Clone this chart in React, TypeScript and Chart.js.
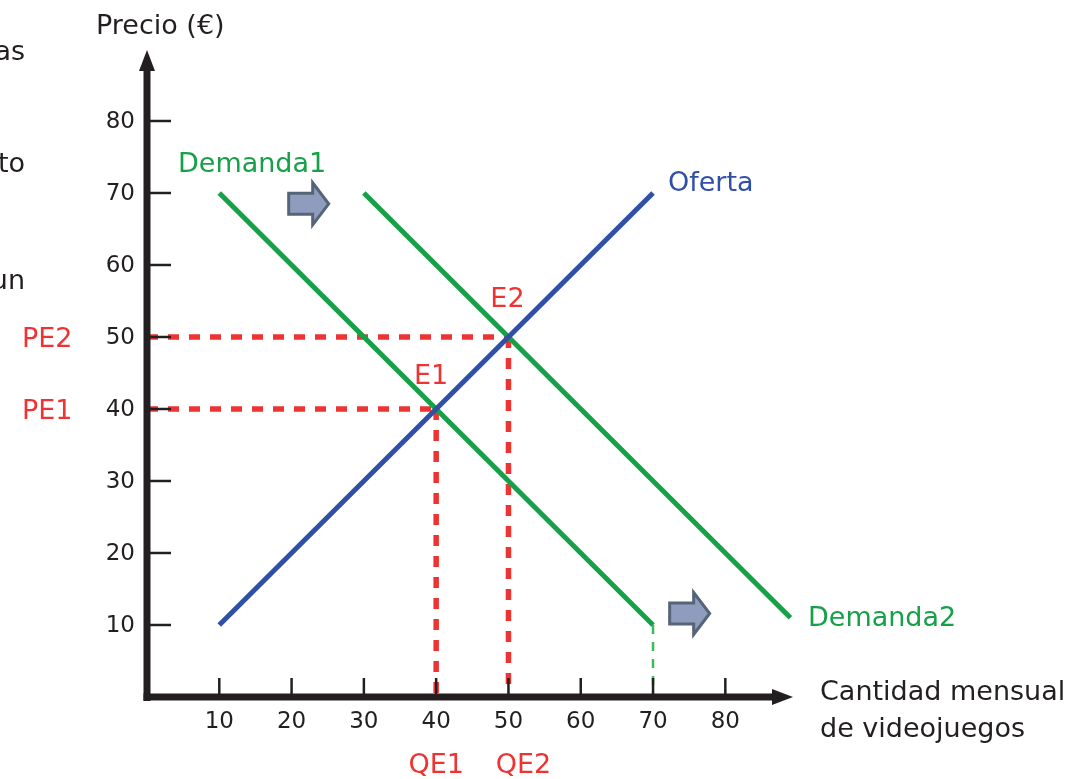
import React, { useEffect, useRef } from "react";
import { Chart, registerables } from "chart.js";
Chart.register(...registerables);

// ---- data ----
const xTicks = [10, 20, 30, 40, 50, 60, 70, 80];
const yTicks = [10, 20, 30, 40, 50, 60, 70, 80];
const oferta = [{ x: 10, y: 10 }, { x: 70, y: 70 }];
const demanda1 = [{ x: 10, y: 70 }, { x: 70, y: 10 }];
const demanda2 = [{ x: 30, y: 70 }, { x: 89, y: 11 }];
const equilibrio1 = { x: 40, y: 40 };
const equilibrio2 = { x: 50, y: 50 };
const guiaDemanda1 = [{ x: 70, y: 10 }, { x: 70, y: 0 }];

// ---- style ----
const GREEN = "#16a048";
const GREEN_LIGHT = "#3dba5a";
const BLUE = "#3050a8";
const RED = "#ee3333";
const INK = "#231f20";
const FONT = '"DejaVu Sans", Verdana, sans-serif';

const W = 1083;
const H = 779;

const decor = {
  id: "decor",
  afterDatasetsDraw(chart: any) {
    const { ctx } = chart;
    const xs = chart.scales.x;
    const ys = chart.scales.y;
    const x0 = xs.getPixelForValue(0);
    const y0 = ys.getPixelForValue(0);
    ctx.save();

    // axes
    ctx.strokeStyle = INK;
    ctx.fillStyle = INK;
    ctx.lineWidth = 7;
    ctx.lineCap = "butt";
    const yTip = ys.getPixelForValue(90) + 1;
    const xTip = xs.getPixelForValue(xs.max) - 1;
    ctx.beginPath();
    ctx.moveTo(x0, y0 + 4);
    ctx.lineTo(x0, yTip + 18);
    ctx.stroke();
    ctx.beginPath();
    ctx.moveTo(x0 - 3.5, y0);
    ctx.lineTo(xTip - 18, y0);
    ctx.stroke();
    // arrow heads
    ctx.beginPath();
    ctx.moveTo(x0, yTip);
    ctx.lineTo(x0 - 8, yTip + 21);
    ctx.lineTo(x0 + 8, yTip + 21);
    ctx.closePath();
    ctx.fill();
    ctx.beginPath();
    ctx.moveTo(xTip, y0);
    ctx.lineTo(xTip - 21, y0 - 8);
    ctx.lineTo(xTip - 21, y0 + 8);
    ctx.closePath();
    ctx.fill();

    // ticks
    ctx.lineWidth = 2.5;
    yTicks.forEach((v) => {
      const py = ys.getPixelForValue(v);
      ctx.beginPath();
      ctx.moveTo(x0 + 3, py);
      ctx.lineTo(x0 + 24, py);
      ctx.stroke();
    });
    xTicks.forEach((v) => {
      const px = xs.getPixelForValue(v);
      ctx.beginPath();
      ctx.moveTo(px, y0 - 3);
      ctx.lineTo(px, y0 - 19);
      ctx.stroke();
    });

    // tick labels
    ctx.font = `23px ${FONT}`;
    ctx.textBaseline = "middle";
    ctx.textAlign = "right";
    yTicks.forEach((v) => {
      ctx.fillText(String(v), x0 - 12, ys.getPixelForValue(v) + 1);
    });
    ctx.textAlign = "center";
    xTicks.forEach((v) => {
      ctx.fillText(String(v), xs.getPixelForValue(v), y0 + 25);
    });

    // block arrows (shift of demand)
    const blockArrow = (left: number, cy: number) => {
      const bodyL = 24, headL = 16, bodyH = 21, headH = 42;
      ctx.beginPath();
      ctx.moveTo(left, cy - bodyH / 2);
      ctx.lineTo(left + bodyL, cy - bodyH / 2);
      ctx.lineTo(left + bodyL, cy - headH / 2);
      ctx.lineTo(left + bodyL + headL, cy);
      ctx.lineTo(left + bodyL, cy + headH / 2);
      ctx.lineTo(left + bodyL, cy + bodyH / 2);
      ctx.lineTo(left, cy + bodyH / 2);
      ctx.closePath();
      ctx.fillStyle = "#8f9cbd";
      ctx.fill();
      ctx.lineWidth = 3;
      ctx.lineJoin = "miter";
      ctx.strokeStyle = "#566478";
      ctx.stroke();
    };
    blockArrow(xs.getPixelForValue(19.6), ys.getPixelForValue(68.5));
    blockArrow(xs.getPixelForValue(72.3), ys.getPixelForValue(11.6));

    // text labels
    ctx.font = `27px ${FONT}`;
    ctx.textBaseline = "alphabetic";
    const text = (t: string, x: number, y: number, color: string, align: CanvasTextAlign = "left") => {
      ctx.fillStyle = color;
      ctx.textAlign = align;
      ctx.fillText(t, x, y);
    };
    text("Precio (€)", 96, 34, INK);
    text("Cantidad mensual", 820, 700, INK);
    text("de videojuegos", 820, 737, INK);
    text("as", 25, 60, INK, "right");
    text("to", 25, 172, INK, "right");
    text("un", 25, 289, INK, "right");

    text("Demanda1", 178, 172, GREEN);
    text("Demanda2", 808, 626, GREEN);
    text("Oferta", 668, 191, BLUE);

    text("E1", xs.getPixelForValue(equilibrio1.x) - 5, ys.getPixelForValue(equilibrio1.y) - 25, RED, "center");
    text("E2", xs.getPixelForValue(equilibrio2.x) - 1, ys.getPixelForValue(equilibrio2.y) - 30, RED, "center");
    text("PE1", 22, ys.getPixelForValue(equilibrio1.y) + 10, RED);
    text("PE2", 22, ys.getPixelForValue(equilibrio2.y) + 10, RED);
    text("QE1", xs.getPixelForValue(equilibrio1.x), 773, RED, "center");
    text("QE2", xs.getPixelForValue(equilibrio2.x) + 15, 773, RED, "center");

    ctx.restore();
  },
};

export default function App() {
  const ref = useRef<HTMLCanvasElement>(null);
  useEffect(() => {
    if (!ref.current) return;
    const solid = (data: any[], color: string) => ({
      data,
      borderColor: color,
      borderWidth: 5,
      showLine: true,
      pointRadius: 0,
      fill: false,
      clip: false as any,
    });
    const dashed = (data: any[], color: string, width: number, dash: number[]) => ({
      data,
      borderColor: color,
      borderWidth: width,
      borderDash: dash,
      showLine: true,
      pointRadius: 0,
      fill: false,
      clip: false as any,
    });
    const chart = new Chart(ref.current, {
      type: "scatter",
      data: {
        datasets: [
          solid(oferta, BLUE),
          solid(demanda1, GREEN),
          solid(demanda2, GREEN),
          dashed([{ x: 0, y: equilibrio2.y }, equilibrio2], RED, 5.5, [11, 10]),
          dashed([equilibrio2, { x: equilibrio2.x, y: 0 }], RED, 5.5, [11, 10]),
          dashed([{ x: 0, y: equilibrio1.y }, equilibrio1], RED, 5.5, [11, 10]),
          dashed([equilibrio1, { x: equilibrio1.x, y: 0 }], RED, 5.5, [11, 10]),
          dashed(guiaDemanda1, GREEN_LIGHT, 2.5, [9, 8]),
        ] as any,
      },
      options: {
        responsive: false,
        animation: false,
        devicePixelRatio: 1,
        layout: { padding: { left: 147, right: W - 794, top: 49, bottom: H - 697 } },
        plugins: { legend: { display: false }, tooltip: { enabled: false } },
        scales: {
          x: { type: "linear", min: 0, max: 89.5, display: false },
          y: { type: "linear", min: 0, max: 90, display: false },
        },
      },
      plugins: [decor],
    });
    return () => chart.destroy();
  }, []);
  return (
    <div style={{ position: "absolute", left: 0, top: 0, width: W, height: H, background: "#fff" }}>
      <canvas ref={ref} width={W} height={H} style={{ display: "block" }} />
    </div>
  );
}
